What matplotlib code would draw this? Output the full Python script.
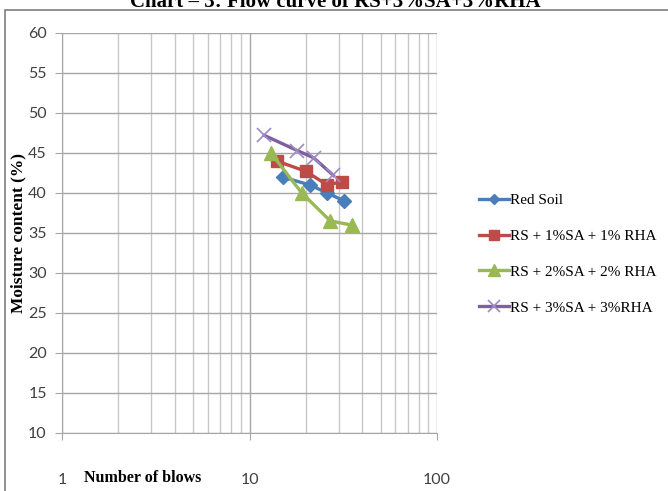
import matplotlib
matplotlib.use('Agg')
import matplotlib.pyplot as plt
from matplotlib.ticker import LogLocator, NullFormatter, FixedLocator
from matplotlib.patches import Rectangle

# data
rs_blows = [15, 21, 26, 32]
rs_mc = [42, 41, 40, 39]
rs1_blows = [14, 20, 26, 31]
rs1_mc = [44, 42.7, 41, 41.4]
rs2_blows = [13, 19, 27, 35]
rs2_mc = [45, 40, 36.5, 36]
rs3_blows = [12, 18, 22, 28]
rs3_mc = [47.2, 45.3, 44.4, 42.2]
labels = ['Red Soil', 'RS + 1%SA + 1% RHA', 'RS + 2%SA + 2% RHA', 'RS + 3%SA + 3%RHA']
yticks = [10, 15, 20, 25, 30, 35, 40, 45, 50, 55, 60]
xticks = [1, 10, 100]

fig = plt.figure(figsize=(6.68, 4.91), dpi=100)
W, H = 668, 491
ax = fig.add_axes([62 / W, 1 - 433 / H, (437 - 62) / W, (433 - 33) / H])

grey = '#A6A6A6'
ax.plot(rs_blows, rs_mc, color='#4A7EBB', lw=2.4, marker='D', ms=7, label=labels[0])
ax.plot(rs1_blows, rs1_mc, color='#BE4B48', lw=2.4, marker='s', ms=9, label=labels[1])
ax.plot(rs2_blows, rs2_mc, color='#98B954', lw=2.4, marker='^', ms=10, label=labels[2])
ax.plot(rs3_blows, rs3_mc, color='#7D60A0', lw=2.4, marker='x', ms=10, mec='#9C8BC4',
        mew=1.2, label=labels[3])

ax.set_xscale('log')
ax.set_xlim(1, 100)
ax.set_ylim(10, 60)
ax.xaxis.set_major_locator(FixedLocator(xticks))
ax.set_xticklabels([str(v) for v in xticks])
ax.xaxis.set_minor_locator(LogLocator(base=10, subs=range(2, 10)))
ax.xaxis.set_minor_formatter(NullFormatter())
ax.set_yticks(yticks)
ax.set_yticklabels([str(v) for v in yticks])
ax.grid(True, which='major', color=grey, lw=1)
ax.grid(True, which='minor', axis='x', color='#C8C8C8', lw=1)
ax.set_axisbelow(True)
for s in ['top', 'right']:
    ax.spines[s].set_visible(False)
for s in ['left', 'bottom']:
    ax.spines[s].set_color(grey)
tickfont = ['Lato', 'DejaVu Sans']
ax.tick_params(axis='y', which='major', length=5, color=grey, pad=6, labelsize=11.5)
ax.tick_params(axis='x', which='major', length=5, color=grey, pad=24, labelsize=11.5)
ax.tick_params(axis='x', which='minor', length=0)
for t in ax.get_xticklabels() + ax.get_yticklabels():
    t.set_family(tickfont)
    t.set_color('#404040')

fig.text(18 / W, 1 - 233 / H, 'Moisture content (%)', rotation=90, ha='center', va='center',
         family='Liberation Serif', weight='bold', fontsize=12.5)
fig.text(143 / W, 1 - 478 / H, 'Number of blows', ha='center', va='center',
         family='Liberation Serif', weight='bold', fontsize=11.5)
fig.text(335 / W, 1 - 2 / H, 'Chart \u2013 3: Flow curve of RS+3%SA+3%RHA', ha='center', va='center',
         family='Liberation Serif', weight='bold', fontsize=15)

leg = fig.legend(loc='center left', bbox_to_anchor=(465 / W, 1 - 254 / H), frameon=False,
                 prop={'family': 'Liberation Serif', 'size': 11}, handlelength=2.0,
                 handletextpad=0.05, labelspacing=1.45, markerscale=0.8)

fig.patches.append(Rectangle((5 / W, -0.1), 1.2, 1 - 10 / H + 0.1, transform=fig.transFigure,
                             fill=False, edgecolor='#7F7F7F', lw=1.2))

fig.savefig('out.png', dpi=100)
